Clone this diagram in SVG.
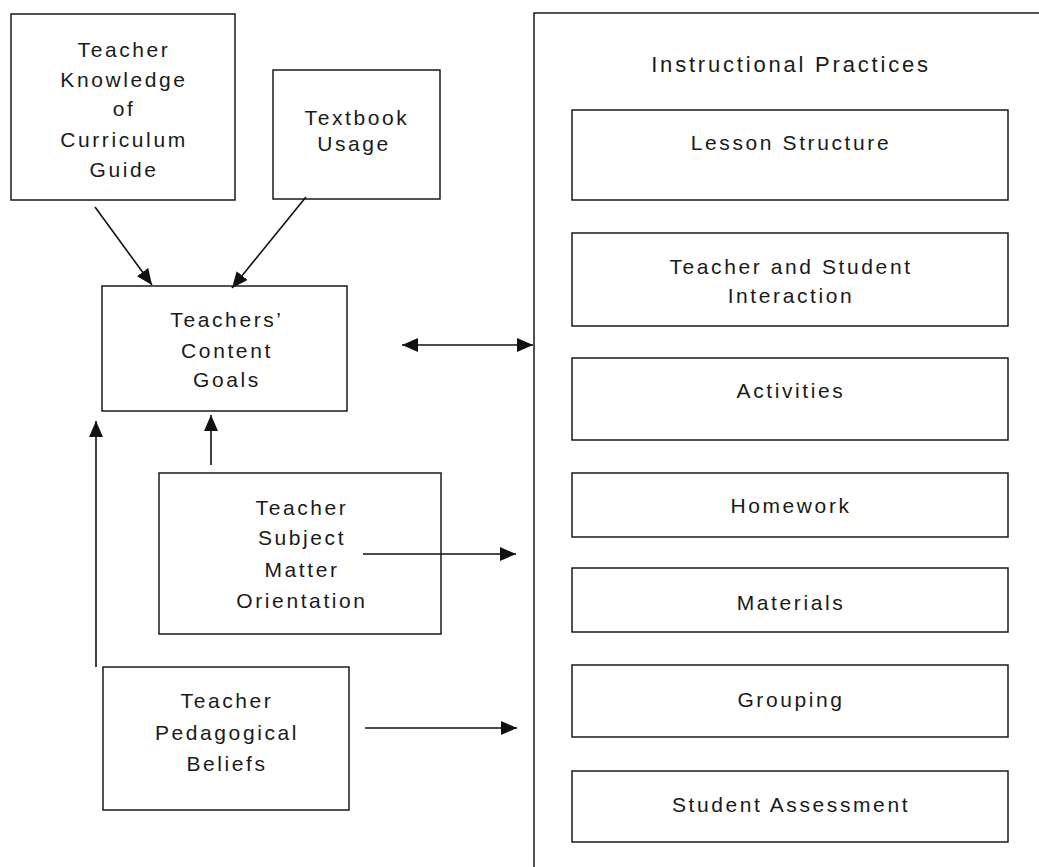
<svg xmlns="http://www.w3.org/2000/svg" width="1039" height="867" viewBox="0 0 1039 867">
<style>
.box{fill:#fff;stroke:#1a1a1a;stroke-width:1.5}
.t{font-family:"Liberation Sans",Arial,sans-serif;font-size:21px;fill:#1a1a1a;text-anchor:middle;letter-spacing:2.6px}
.title{font-size:22px;letter-spacing:2.8px}
.conn{stroke:#111;stroke-width:1.6;fill:none}
</style>
<defs>
<marker id="ah" viewBox="0 0 16 14" markerWidth="16" markerHeight="14" refX="16" refY="7" orient="auto-start-reverse" markerUnits="userSpaceOnUse">
<path d="M0,0 L16,7 L0,14 z" fill="#111"/>
</marker>
</defs>
<rect width="1039" height="867" fill="#fff"/>

<g id="instructional-practices">
<rect class="box" x="534" y="13" width="520" height="870"/>
<text class="t title" x="791" y="72">Instructional Practices</text>
</g>

<g id="lesson-structure">
<rect class="box" x="572" y="110" width="436" height="90"/>
<text class="t" x="791" y="150">Lesson Structure</text>
</g>
<g id="teacher-student-interaction">
<rect class="box" x="572" y="233" width="436" height="93"/>
<text class="t" x="791" y="274">Teacher and Student</text>
<text class="t" x="791" y="303">Interaction</text>
</g>
<g id="activities">
<rect class="box" x="572" y="358" width="436" height="82"/>
<text class="t" x="791" y="398">Activities</text>
</g>
<g id="homework">
<rect class="box" x="572" y="473" width="436" height="64"/>
<text class="t" x="791" y="513">Homework</text>
</g>
<g id="materials">
<rect class="box" x="572" y="568" width="436" height="64"/>
<text class="t" x="791" y="610">Materials</text>
</g>
<g id="grouping">
<rect class="box" x="572" y="665" width="436" height="72"/>
<text class="t" x="791" y="707">Grouping</text>
</g>
<g id="student-assessment">
<rect class="box" x="572" y="771" width="436" height="71"/>
<text class="t" x="791" y="812">Student Assessment</text>
</g>

<g id="curriculum-guide">
<rect class="box" x="11" y="14" width="224" height="186"/>
<text class="t" x="124" y="57">Teacher</text>
<text class="t" x="124" y="87">Knowledge</text>
<text class="t" x="124" y="116">of</text>
<text class="t" x="124" y="147">Curriculum</text>
<text class="t" x="124" y="177">Guide</text>
</g>
<g id="textbook-usage">
<rect class="box" x="273" y="70" width="167" height="129"/>
<text class="t" x="357" y="125">Textbook</text>
<text class="t" x="354" y="151">Usage</text>
</g>
<g id="content-goals">
<rect class="box" x="102" y="286" width="245" height="125"/>
<text class="t" x="227" y="327">Teachers’</text>
<text class="t" x="227" y="358">Content</text>
<text class="t" x="227" y="387">Goals</text>
</g>
<g id="subject-matter">
<rect class="box" x="159" y="473" width="282" height="161"/>
<text class="t" x="302" y="515">Teacher</text>
<text class="t" x="302" y="545">Subject</text>
<text class="t" x="302" y="577">Matter</text>
<text class="t" x="302" y="608">Orientation</text>
</g>
<g id="pedagogical-beliefs">
<rect class="box" x="103" y="667" width="246" height="143"/>
<text class="t" x="227" y="708">Teacher</text>
<text class="t" x="227" y="740">Pedagogical</text>
<text class="t" x="227" y="771">Beliefs</text>
</g>

<g id="connectors">
<line class="conn" x1="95" y1="207" x2="152" y2="285" marker-end="url(#ah)"/>
<line class="conn" x1="306" y1="197" x2="232" y2="288" marker-end="url(#ah)"/>
<line class="conn" x1="402" y1="345" x2="533" y2="345" marker-start="url(#ah)" marker-end="url(#ah)"/>
<line class="conn" x1="211" y1="465" x2="211" y2="415" marker-end="url(#ah)"/>
<line class="conn" x1="96" y1="667" x2="96" y2="421" marker-end="url(#ah)"/>
<line class="conn" x1="363" y1="554" x2="516" y2="554" marker-end="url(#ah)"/>
<line class="conn" x1="365" y1="728" x2="517" y2="728" marker-end="url(#ah)"/>
</g>
</svg>
